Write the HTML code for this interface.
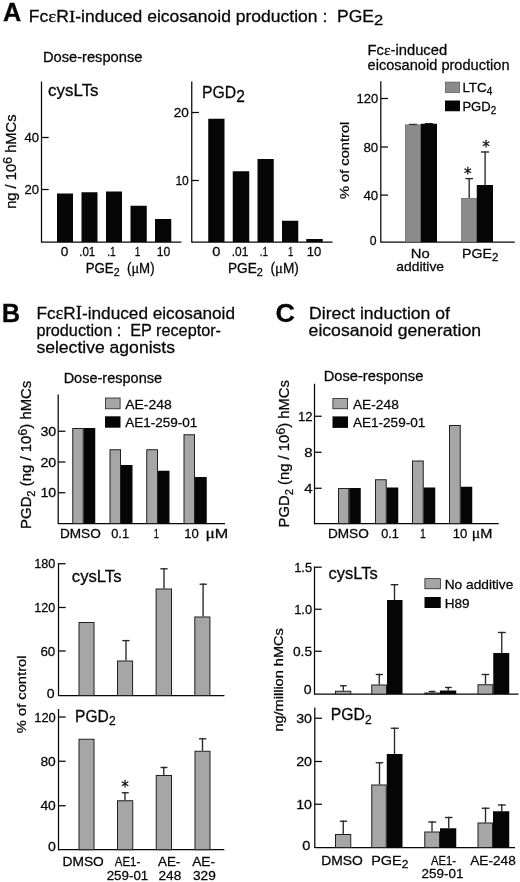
<!DOCTYPE html>
<html><head><meta charset="utf-8"><title>Figure</title>
<style>
html,body{margin:0;padding:0;background:#fff;}
svg{display:block;font-family:"Liberation Sans",sans-serif;fill:#060606;}
text{stroke:#060606;stroke-width:0.26px;}
</style></head><body>
<svg width="520" height="882" viewBox="0 0 520 882">
<rect x="0" y="0" width="520" height="882" fill="#ffffff"/>
<text x="3.07" y="20.6" font-size="26.44" font-weight="bold" textLength="18.26" lengthAdjust="spacingAndGlyphs">A</text>
<text x="28.85" y="21.7" font-size="15.88" textLength="354.31" lengthAdjust="spacingAndGlyphs">Fc<tspan font-family="'Liberation Serif', serif" font-size="108%">ε</tspan>R<tspan font-family="'Liberation Serif', serif" font-size="108%">I</tspan>-induced eicosanoid production :&#160; PGE<tspan dy="3.5" font-size="15">2</tspan><tspan dy="-3.5">&#8203;</tspan></text>
<text x="42.95" y="62.2" font-size="14.11" textLength="99.49" lengthAdjust="spacingAndGlyphs">Dose-response</text>
<line x1="41.5" y1="81.5" x2="41.5" y2="242.6" stroke="#060606" stroke-width="1.25"/>
<line x1="41.5" y1="242" x2="181.3" y2="242" stroke="#060606" stroke-width="1.25"/>
<line x1="41.5" y1="137.5" x2="48.7" y2="137.5" stroke="#060606" stroke-width="1.25"/>
<line x1="41.5" y1="189.5" x2="48.7" y2="189.5" stroke="#060606" stroke-width="1.25"/>
<text x="24.49" y="142" font-size="13.58" textLength="14.63" lengthAdjust="spacingAndGlyphs">40</text>
<text x="24.49" y="194.2" font-size="13.58" textLength="14.63" lengthAdjust="spacingAndGlyphs">20</text>
<text x="48.13" y="96.3" font-size="16.2" textLength="50.44" lengthAdjust="spacingAndGlyphs">cysLTs</text>
<rect x="57.00" y="193.50" width="16.00" height="48.50" fill="#060606"/>
<rect x="81.50" y="192.25" width="16.00" height="49.75" fill="#060606"/>
<rect x="106.00" y="191.50" width="16.00" height="50.50" fill="#060606"/>
<rect x="130.50" y="205.75" width="16.25" height="36.25" fill="#060606"/>
<rect x="155.00" y="219.00" width="16.25" height="23.00" fill="#060606"/>
<text x="60.70" y="256.3" font-size="13.38" textLength="7.61" lengthAdjust="spacingAndGlyphs">0</text>
<text x="79.20" y="256.3" font-size="13.38" textLength="16.11" lengthAdjust="spacingAndGlyphs">.01</text>
<text x="107.20" y="256.3" font-size="13.38" textLength="8.61" lengthAdjust="spacingAndGlyphs">.1</text>
<text x="134.70" y="256.3" font-size="13.38" textLength="5.61" lengthAdjust="spacingAndGlyphs">1</text>
<text x="156.70" y="256.3" font-size="13.38" textLength="13.61" lengthAdjust="spacingAndGlyphs">10</text>
<text x="85.67" y="272.5" font-size="13.79" textLength="68.90" lengthAdjust="spacingAndGlyphs">PGE<tspan dy="3.4" font-size="11">2</tspan><tspan dy="-3.4">&#8203;</tspan>&#160; (<tspan font-family="'Liberation Serif', serif" font-size="108%">μ</tspan>M)</text>
<text transform="translate(16.2,208.85) rotate(-90)" font-size="14.21" textLength="94.41" lengthAdjust="spacingAndGlyphs">ng / 10<tspan dy="-4.6" font-size="12.3">6</tspan><tspan dy="4.6">&#8203;</tspan> hMCs</text>
<line x1="191.75" y1="81.5" x2="191.75" y2="242.6" stroke="#060606" stroke-width="1.25"/>
<line x1="191.75" y1="242" x2="332.5" y2="242" stroke="#060606" stroke-width="1.25"/>
<line x1="191.75" y1="112.5" x2="198.95" y2="112.5" stroke="#060606" stroke-width="1.25"/>
<line x1="191.75" y1="180.5" x2="198.95" y2="180.5" stroke="#060606" stroke-width="1.25"/>
<text x="173.69" y="117.2" font-size="13.58" textLength="15.13" lengthAdjust="spacingAndGlyphs">20</text>
<text x="175.39" y="185.2" font-size="13.58" textLength="13.43" lengthAdjust="spacingAndGlyphs">10</text>
<text x="202.05" y="98.2" font-size="15.88" textLength="42.81" lengthAdjust="spacingAndGlyphs">PGD<tspan dy="3.8" font-size="15.6">2</tspan><tspan dy="-3.8">&#8203;</tspan></text>
<rect x="208.25" y="118.75" width="16.25" height="123.25" fill="#060606"/>
<rect x="232.75" y="171.25" width="16.50" height="70.75" fill="#060606"/>
<rect x="257.50" y="159.00" width="16.25" height="83.00" fill="#060606"/>
<rect x="282.00" y="220.75" width="16.25" height="21.25" fill="#060606"/>
<rect x="306.25" y="239.00" width="16.50" height="3.00" fill="#060606"/>
<text x="212.20" y="256.3" font-size="13.38" textLength="8.11" lengthAdjust="spacingAndGlyphs">0</text>
<text x="231.70" y="256.3" font-size="13.38" textLength="16.61" lengthAdjust="spacingAndGlyphs">.01</text>
<text x="259.70" y="256.3" font-size="13.38" textLength="8.11" lengthAdjust="spacingAndGlyphs">.1</text>
<text x="287.95" y="256.3" font-size="13.38" textLength="5.36" lengthAdjust="spacingAndGlyphs">1</text>
<text x="306.70" y="256.3" font-size="13.38" textLength="14.61" lengthAdjust="spacingAndGlyphs">10</text>
<text x="227.92" y="272.5" font-size="13.79" textLength="70.90" lengthAdjust="spacingAndGlyphs">PGE<tspan dy="3.4" font-size="11">2</tspan><tspan dy="-3.4">&#8203;</tspan>&#160; (<tspan font-family="'Liberation Serif', serif" font-size="108%">μ</tspan>M)</text>
<text x="367.53" y="55.3" font-size="14.42" textLength="79.58" lengthAdjust="spacingAndGlyphs">Fc<tspan font-family="'Liberation Serif', serif" font-size="108%">ε</tspan>-induced</text>
<text x="367.53" y="70.2" font-size="14.42" textLength="142.08" lengthAdjust="spacingAndGlyphs">eicosanoid production</text>
<line x1="380.8" y1="81.2" x2="380.8" y2="242.6" stroke="#060606" stroke-width="1.25"/>
<line x1="380.8" y1="242" x2="514.8" y2="242" stroke="#060606" stroke-width="1.25"/>
<line x1="380.8" y1="98.5" x2="388.0" y2="98.5" stroke="#060606" stroke-width="1.25"/>
<text x="356.49" y="103.1" font-size="13.58" textLength="21.73" lengthAdjust="spacingAndGlyphs">120</text>
<line x1="380.8" y1="147" x2="388.0" y2="147" stroke="#060606" stroke-width="1.25"/>
<text x="363.39" y="151.6" font-size="13.58" textLength="14.83" lengthAdjust="spacingAndGlyphs">80</text>
<line x1="380.8" y1="195.1" x2="388.0" y2="195.1" stroke="#060606" stroke-width="1.25"/>
<text x="363.39" y="199.7" font-size="13.58" textLength="14.83" lengthAdjust="spacingAndGlyphs">40</text>
<text x="369.69" y="244.6" font-size="13.58" textLength="6.83" lengthAdjust="spacingAndGlyphs">0</text>
<rect x="405.35" y="124.85" width="15.05" height="117.15" fill="#8b8b8b" stroke="#666" stroke-width="0.7"/>
<rect x="420.75" y="123.75" width="16.25" height="118.25" fill="#060606"/>
<line x1="409" y1="124.3" x2="417" y2="124.3" stroke="#060606" stroke-width="0.9"/>
<line x1="425" y1="123.5" x2="433" y2="123.5" stroke="#060606" stroke-width="0.9"/>
<line x1="469.2" y1="198" x2="469.2" y2="177.92499999999998" stroke="#262626" stroke-width="1.35"/>
<line x1="465.4" y1="178.6" x2="473" y2="178.6" stroke="#262626" stroke-width="1.35"/>
<line x1="485.1" y1="185" x2="485.1" y2="151.325" stroke="#262626" stroke-width="1.35"/>
<line x1="480.9" y1="152" x2="489.1" y2="152" stroke="#262626" stroke-width="1.35"/>
<rect x="461.60" y="198.35" width="14.80" height="43.65" fill="#8b8b8b" stroke="#666" stroke-width="0.7"/>
<rect x="476.75" y="185.00" width="16.25" height="57.00" fill="#060606"/>
<text x="467.9" y="179.12" font-size="15.2" font-family="'DejaVu Sans', sans-serif" text-anchor="middle">*</text>
<text x="486" y="151.72" font-size="15.2" font-family="'DejaVu Sans', sans-serif" text-anchor="middle">*</text>
<rect x="445.35" y="82.10" width="14.30" height="10.40" fill="#8b8b8b" stroke="#555" stroke-width="0.7"/>
<rect x="445.00" y="100.50" width="15.00" height="10.75" fill="#060606"/>
<text x="462.40" y="91.75" font-size="13.38" textLength="30.01" lengthAdjust="spacingAndGlyphs">LTC<tspan dy="2.8" font-size="10">4</tspan><tspan dy="-2.8">&#8203;</tspan></text>
<text x="462.40" y="110.75" font-size="13.38" textLength="33.71" lengthAdjust="spacingAndGlyphs">PGD<tspan dy="2.8" font-size="10">2</tspan><tspan dy="-2.8">&#8203;</tspan></text>
<text transform="translate(349.3,199.07) rotate(-90)" font-size="13.69" textLength="77.39" lengthAdjust="spacingAndGlyphs">% of control</text>
<text x="410.89" y="257.6" font-size="13.58" textLength="18.93" lengthAdjust="spacingAndGlyphs">No</text>
<text x="396.29" y="271.4" font-size="13.58" textLength="47.73" lengthAdjust="spacingAndGlyphs">additive</text>
<text x="462.09" y="257.6" font-size="13.58" textLength="36.23" lengthAdjust="spacingAndGlyphs">PGE<tspan dy="3" font-size="11">2</tspan><tspan dy="-3">&#8203;</tspan></text>
<text x="1.81" y="322" font-size="26.44" font-weight="bold" textLength="18.37" lengthAdjust="spacingAndGlyphs">B</text>
<text x="36.40" y="318.9" font-size="16.72" textLength="198.61" lengthAdjust="spacingAndGlyphs">Fc<tspan font-family="'Liberation Serif', serif" font-size="108%">ε</tspan>R<tspan font-family="'Liberation Serif', serif" font-size="108%">I</tspan>-induced eicosanoid</text>
<text x="36.40" y="336.3" font-size="16.72" textLength="184.61" lengthAdjust="spacingAndGlyphs">production :&#160; EP receptor-</text>
<text x="36.40" y="353.3" font-size="16.72" textLength="138.61" lengthAdjust="spacingAndGlyphs">selective agonists</text>
<text x="63.65" y="383" font-size="14.11" textLength="98.44" lengthAdjust="spacingAndGlyphs">Dose-response</text>
<line x1="58.2" y1="394.5" x2="58.2" y2="524.1" stroke="#060606" stroke-width="1.25"/>
<line x1="58.2" y1="523.5" x2="225" y2="523.5" stroke="#060606" stroke-width="1.25"/>
<line x1="58.2" y1="431.25" x2="65.4" y2="431.25" stroke="#060606" stroke-width="1.25"/>
<text x="40.45" y="435.75" font-size="13.38" textLength="15.86" lengthAdjust="spacingAndGlyphs">30</text>
<line x1="58.2" y1="462" x2="65.4" y2="462" stroke="#060606" stroke-width="1.25"/>
<text x="40.45" y="466.5" font-size="13.38" textLength="15.86" lengthAdjust="spacingAndGlyphs">20</text>
<line x1="58.2" y1="492.75" x2="65.4" y2="492.75" stroke="#060606" stroke-width="1.25"/>
<text x="40.45" y="497.25" font-size="13.38" textLength="15.86" lengthAdjust="spacingAndGlyphs">10</text>
<rect x="105.40" y="398.00" width="14.70" height="10.80" fill="#a6a6a6" stroke="#202020" stroke-width="0.8"/>
<rect x="105.00" y="416.30" width="15.50" height="11.40" fill="#060606"/>
<text x="125.20" y="409" font-size="13.38" textLength="46.61" lengthAdjust="spacingAndGlyphs">AE-248</text>
<text x="125.20" y="427" font-size="13.38" textLength="72.21" lengthAdjust="spacingAndGlyphs">AE1-259-01</text>
<rect x="72.75" y="428.50" width="10.50" height="95.00" fill="#a6a6a6" stroke="#202020" stroke-width="1.0"/>
<rect x="83.75" y="428.00" width="11.50" height="95.50" fill="#060606"/>
<rect x="110.00" y="449.75" width="10.50" height="73.75" fill="#a6a6a6" stroke="#202020" stroke-width="1.0"/>
<rect x="121.00" y="465.00" width="11.50" height="58.50" fill="#060606"/>
<rect x="146.75" y="449.75" width="10.75" height="73.75" fill="#a6a6a6" stroke="#202020" stroke-width="1.0"/>
<rect x="158.00" y="470.75" width="11.50" height="52.75" fill="#060606"/>
<rect x="184.00" y="434.75" width="10.50" height="88.75" fill="#a6a6a6" stroke="#202020" stroke-width="1.0"/>
<rect x="195.00" y="477.00" width="11.75" height="46.50" fill="#060606"/>
<text x="59.97" y="537.5" font-size="13.06" textLength="40.82" lengthAdjust="spacingAndGlyphs">DMSO</text>
<text x="111.22" y="537.5" font-size="13.06" textLength="17.82" lengthAdjust="spacingAndGlyphs">0.1</text>
<text x="153.72" y="537.5" font-size="13.06" textLength="5.07" lengthAdjust="spacingAndGlyphs">1</text>
<text x="184.22" y="537.5" font-size="13.06" textLength="14.57" lengthAdjust="spacingAndGlyphs">10</text>
<text x="205.47" y="537.5" font-size="13.06" textLength="22.82" lengthAdjust="spacingAndGlyphs"><tspan font-family="'Liberation Serif', serif" font-size="108%">μ</tspan>M</text>
<text transform="translate(31.3,528.88) rotate(-90)" font-size="14.63" textLength="148.16" lengthAdjust="spacingAndGlyphs">PGD<tspan dy="3.5" font-size="11">2</tspan><tspan dy="-3.5">&#8203;</tspan> (ng / 10<tspan dy="-4.6" font-size="12.5">6</tspan><tspan dy="4.6">&#8203;</tspan>) hMCs</text>
<line x1="58.5" y1="563.2" x2="58.5" y2="696.1" stroke="#060606" stroke-width="1.25"/>
<line x1="58.5" y1="695.5" x2="224.4" y2="695.5" stroke="#060606" stroke-width="1.25"/>
<line x1="58.5" y1="563.75" x2="65.7" y2="563.75" stroke="#060606" stroke-width="1.25"/>
<text x="34.20" y="568.15" font-size="13.38" textLength="21.11" lengthAdjust="spacingAndGlyphs">180</text>
<line x1="58.5" y1="607.5" x2="65.7" y2="607.5" stroke="#060606" stroke-width="1.25"/>
<text x="34.20" y="611.9" font-size="13.38" textLength="21.11" lengthAdjust="spacingAndGlyphs">120</text>
<line x1="58.5" y1="651" x2="65.7" y2="651" stroke="#060606" stroke-width="1.25"/>
<text x="40.45" y="656.2" font-size="13.38" textLength="14.86" lengthAdjust="spacingAndGlyphs">60</text>
<text x="46.70" y="698" font-size="13.38" textLength="7.86" lengthAdjust="spacingAndGlyphs">0</text>
<text x="71.83" y="582" font-size="16.2" textLength="49.64" lengthAdjust="spacingAndGlyphs">cysLTs</text>
<rect x="79.00" y="622.50" width="15.00" height="73.00" fill="#a6a6a6" stroke="#202020" stroke-width="1.0"/>
<line x1="126" y1="660.5" x2="126" y2="639.9250000000001" stroke="#262626" stroke-width="1.35"/>
<line x1="122.3" y1="640.6" x2="129.6" y2="640.6" stroke="#262626" stroke-width="1.35"/>
<rect x="117.50" y="661.00" width="15.10" height="34.50" fill="#a6a6a6" stroke="#202020" stroke-width="1.0"/>
<line x1="164" y1="588.5" x2="164" y2="568.125" stroke="#262626" stroke-width="1.35"/>
<line x1="160.3" y1="568.8" x2="167.6" y2="568.8" stroke="#262626" stroke-width="1.35"/>
<rect x="156.10" y="589.00" width="15.40" height="106.50" fill="#a6a6a6" stroke="#202020" stroke-width="1.0"/>
<line x1="203.1" y1="616.5" x2="203.1" y2="583.5250000000001" stroke="#262626" stroke-width="1.35"/>
<line x1="199.6" y1="584.2" x2="206.9" y2="584.2" stroke="#262626" stroke-width="1.35"/>
<rect x="194.80" y="617.00" width="15.10" height="78.50" fill="#a6a6a6" stroke="#202020" stroke-width="1.0"/>
<text transform="translate(26.4,733.22) rotate(-90)" font-size="13.69" textLength="77.74" lengthAdjust="spacingAndGlyphs">% of control</text>
<line x1="58.5" y1="709" x2="58.5" y2="850.3000000000001" stroke="#060606" stroke-width="1.25"/>
<line x1="58.5" y1="849.7" x2="224.3" y2="849.7" stroke="#060606" stroke-width="1.25"/>
<line x1="58.5" y1="717" x2="65.7" y2="717" stroke="#060606" stroke-width="1.25"/>
<text x="34.20" y="721.6" font-size="13.38" textLength="21.61" lengthAdjust="spacingAndGlyphs">120</text>
<line x1="58.5" y1="761.25" x2="65.7" y2="761.25" stroke="#060606" stroke-width="1.25"/>
<text x="40.45" y="765.85" font-size="13.38" textLength="15.36" lengthAdjust="spacingAndGlyphs">80</text>
<line x1="58.5" y1="805.75" x2="65.7" y2="805.75" stroke="#060606" stroke-width="1.25"/>
<text x="40.45" y="810.35" font-size="13.38" textLength="15.36" lengthAdjust="spacingAndGlyphs">40</text>
<text x="47.95" y="850.8" font-size="13.38" textLength="7.86" lengthAdjust="spacingAndGlyphs">0</text>
<text x="75.06" y="721.7" font-size="15.67" textLength="40.48" lengthAdjust="spacingAndGlyphs">PGD<tspan dy="3.4" font-size="12">2</tspan><tspan dy="-3.4">&#8203;</tspan></text>
<rect x="79.00" y="739.25" width="15.00" height="110.45" fill="#a6a6a6" stroke="#202020" stroke-width="1.0"/>
<line x1="125" y1="800.25" x2="125" y2="792.075" stroke="#262626" stroke-width="1.35"/>
<line x1="121.75" y1="792.75" x2="128.75" y2="792.75" stroke="#262626" stroke-width="1.35"/>
<rect x="117.50" y="800.75" width="15.25" height="48.95" fill="#a6a6a6" stroke="#202020" stroke-width="1.0"/>
<line x1="163.75" y1="775" x2="163.75" y2="766.825" stroke="#262626" stroke-width="1.35"/>
<line x1="160.5" y1="767.5" x2="167.5" y2="767.5" stroke="#262626" stroke-width="1.35"/>
<rect x="156.25" y="775.50" width="15.25" height="74.20" fill="#a6a6a6" stroke="#202020" stroke-width="1.0"/>
<line x1="202.5" y1="750.75" x2="202.5" y2="738.075" stroke="#262626" stroke-width="1.35"/>
<line x1="199" y1="738.75" x2="206.25" y2="738.75" stroke="#262626" stroke-width="1.35"/>
<rect x="195.00" y="751.25" width="15.00" height="98.45" fill="#a6a6a6" stroke="#202020" stroke-width="1.0"/>
<text x="125.1" y="792.42" font-size="15.2" font-family="'DejaVu Sans', sans-serif" text-anchor="middle">*</text>
<text x="62.47" y="865.75" font-size="13.06" textLength="41.32" lengthAdjust="spacingAndGlyphs">DMSO</text>
<text x="114.79" y="865.8" font-size="13.48" textLength="25.52" lengthAdjust="spacingAndGlyphs">AE1-</text>
<text x="106.69" y="879.5" font-size="13.48" textLength="41.62" lengthAdjust="spacingAndGlyphs">259-01</text>
<text x="157.94" y="865.8" font-size="13.48" textLength="22.37" lengthAdjust="spacingAndGlyphs">AE-</text>
<text x="158.44" y="879.5" font-size="13.48" textLength="22.87" lengthAdjust="spacingAndGlyphs">248</text>
<text x="192.19" y="865.8" font-size="13.48" textLength="22.87" lengthAdjust="spacingAndGlyphs">AE-</text>
<text x="192.94" y="879.5" font-size="13.48" textLength="22.87" lengthAdjust="spacingAndGlyphs">329</text>
<text x="275.64" y="322.4" font-size="25.92" font-weight="bold" textLength="19.51" lengthAdjust="spacingAndGlyphs">C</text>
<text x="309.00" y="318.7" font-size="16.72" textLength="141.01" lengthAdjust="spacingAndGlyphs">Direct induction of</text>
<text x="308.60" y="335.5" font-size="16.72" textLength="172.41" lengthAdjust="spacingAndGlyphs">eicosanoid generation</text>
<text x="323.65" y="381.25" font-size="14.11" textLength="99.69" lengthAdjust="spacingAndGlyphs">Dose-response</text>
<line x1="314.5" y1="383.75" x2="314.5" y2="524.2" stroke="#060606" stroke-width="1.25"/>
<line x1="314.5" y1="523.6" x2="498.75" y2="523.6" stroke="#060606" stroke-width="1.25"/>
<line x1="314.5" y1="416.25" x2="321.7" y2="416.25" stroke="#060606" stroke-width="1.25"/>
<text x="297.95" y="420.75" font-size="13.38" textLength="14.61" lengthAdjust="spacingAndGlyphs">12</text>
<line x1="314.5" y1="452.25" x2="321.7" y2="452.25" stroke="#060606" stroke-width="1.25"/>
<text x="304.20" y="456.75" font-size="13.38" textLength="8.36" lengthAdjust="spacingAndGlyphs">8</text>
<line x1="314.5" y1="488.25" x2="321.7" y2="488.25" stroke="#060606" stroke-width="1.25"/>
<text x="304.20" y="492.75" font-size="13.38" textLength="8.36" lengthAdjust="spacingAndGlyphs">4</text>
<rect x="332.90" y="398.40" width="14.70" height="10.35" fill="#a6a6a6" stroke="#202020" stroke-width="0.8"/>
<rect x="332.50" y="416.40" width="15.50" height="11.50" fill="#060606"/>
<text x="352.95" y="408.75" font-size="13.38" textLength="45.86" lengthAdjust="spacingAndGlyphs">AE-248</text>
<text x="352.95" y="427" font-size="13.38" textLength="72.36" lengthAdjust="spacingAndGlyphs">AE1-259-01</text>
<rect x="338.50" y="488.50" width="10.25" height="35.10" fill="#a6a6a6" stroke="#202020" stroke-width="1.0"/>
<rect x="349.25" y="488.00" width="11.50" height="35.60" fill="#060606"/>
<rect x="375.50" y="479.75" width="10.75" height="43.85" fill="#a6a6a6" stroke="#202020" stroke-width="1.0"/>
<rect x="386.75" y="487.50" width="11.50" height="36.10" fill="#060606"/>
<rect x="412.50" y="461.00" width="10.75" height="62.60" fill="#a6a6a6" stroke="#202020" stroke-width="1.0"/>
<rect x="423.75" y="487.50" width="11.50" height="36.10" fill="#060606"/>
<rect x="449.50" y="425.50" width="10.75" height="98.10" fill="#a6a6a6" stroke="#202020" stroke-width="1.0"/>
<rect x="460.75" y="486.75" width="11.50" height="36.85" fill="#060606"/>
<text x="327.97" y="538" font-size="13.06" textLength="40.82" lengthAdjust="spacingAndGlyphs">DMSO</text>
<text x="381.22" y="538" font-size="13.06" textLength="17.57" lengthAdjust="spacingAndGlyphs">0.1</text>
<text x="419.97" y="538" font-size="13.06" textLength="5.82" lengthAdjust="spacingAndGlyphs">1</text>
<text x="452.72" y="538" font-size="13.06" textLength="14.57" lengthAdjust="spacingAndGlyphs">10</text>
<text x="471.72" y="538" font-size="13.06" textLength="20.57" lengthAdjust="spacingAndGlyphs"><tspan font-family="'Liberation Serif', serif" font-size="108%">μ</tspan>M</text>
<text transform="translate(289.3,527.38) rotate(-90)" font-size="14.63" textLength="147.26" lengthAdjust="spacingAndGlyphs">PGD<tspan dy="3.5" font-size="11">2</tspan><tspan dy="-3.5">&#8203;</tspan> (ng / 10<tspan dy="-4.6" font-size="12.5">6</tspan><tspan dy="4.6">&#8203;</tspan>) hMCs</text>
<line x1="314.5" y1="566.6" x2="314.5" y2="694.7" stroke="#060606" stroke-width="1.25"/>
<line x1="314.5" y1="694.1" x2="518.5" y2="694.1" stroke="#060606" stroke-width="1.25"/>
<line x1="314.5" y1="567.2" x2="321.7" y2="567.2" stroke="#060606" stroke-width="1.25"/>
<text x="294.20" y="572.0" font-size="13.38" textLength="17.86" lengthAdjust="spacingAndGlyphs">1.5</text>
<line x1="314.5" y1="609.25" x2="321.7" y2="609.25" stroke="#060606" stroke-width="1.25"/>
<text x="294.20" y="614.05" font-size="13.38" textLength="17.86" lengthAdjust="spacingAndGlyphs">1.0</text>
<line x1="314.5" y1="651.25" x2="321.7" y2="651.25" stroke="#060606" stroke-width="1.25"/>
<text x="292.95" y="656.05" font-size="13.38" textLength="19.11" lengthAdjust="spacingAndGlyphs">0.5</text>
<text x="303.70" y="693.9" font-size="13.38" textLength="7.86" lengthAdjust="spacingAndGlyphs">0</text>
<text x="328.53" y="579.3" font-size="16.2" textLength="49.14" lengthAdjust="spacingAndGlyphs">cysLTs</text>
<rect x="424.90" y="578.65" width="15.45" height="10.10" fill="#a6a6a6" stroke="#202020" stroke-width="0.8"/>
<rect x="424.50" y="597.00" width="16.25" height="11.00" fill="#060606"/>
<text x="444.70" y="588.75" font-size="13.38" textLength="68.61" lengthAdjust="spacingAndGlyphs">No additive</text>
<text x="444.70" y="608" font-size="13.38" textLength="24.86" lengthAdjust="spacingAndGlyphs">H89</text>
<line x1="343.25" y1="690.75" x2="343.25" y2="685.075" stroke="#262626" stroke-width="1.35"/>
<line x1="340" y1="685.75" x2="346.75" y2="685.75" stroke="#262626" stroke-width="1.35"/>
<rect x="335.50" y="691.25" width="15.25" height="2.85" fill="#a6a6a6" stroke="#202020" stroke-width="1.0"/>
<line x1="379.25" y1="684.5" x2="379.25" y2="673.825" stroke="#262626" stroke-width="1.35"/>
<line x1="375.75" y1="674.5" x2="383" y2="674.5" stroke="#262626" stroke-width="1.35"/>
<rect x="371.75" y="685.00" width="14.75" height="9.10" fill="#a6a6a6" stroke="#202020" stroke-width="1.0"/>
<line x1="394.5" y1="600" x2="394.5" y2="584.0250000000001" stroke="#262626" stroke-width="1.35"/>
<line x1="390.75" y1="584.7" x2="398.25" y2="584.7" stroke="#262626" stroke-width="1.35"/>
<rect x="387.00" y="600.00" width="15.50" height="94.10" fill="#060606"/>
<line x1="432" y1="692.5" x2="432" y2="690.825" stroke="#262626" stroke-width="1.35"/>
<line x1="428.75" y1="691.5" x2="435.5" y2="691.5" stroke="#262626" stroke-width="1.35"/>
<rect x="424.75" y="693.00" width="14.75" height="1.10" fill="#a6a6a6" stroke="#202020" stroke-width="1.0"/>
<line x1="448.25" y1="690.5" x2="448.25" y2="686.825" stroke="#262626" stroke-width="1.35"/>
<line x1="445" y1="687.5" x2="451.75" y2="687.5" stroke="#262626" stroke-width="1.35"/>
<rect x="440.00" y="690.50" width="16.25" height="3.60" fill="#060606"/>
<line x1="485.5" y1="684.25" x2="485.5" y2="673.825" stroke="#262626" stroke-width="1.35"/>
<line x1="481.75" y1="674.5" x2="489.25" y2="674.5" stroke="#262626" stroke-width="1.35"/>
<rect x="478.00" y="684.75" width="14.75" height="9.35" fill="#a6a6a6" stroke="#202020" stroke-width="1.0"/>
<line x1="501.75" y1="653" x2="501.75" y2="631.825" stroke="#262626" stroke-width="1.35"/>
<line x1="498" y1="632.5" x2="505.75" y2="632.5" stroke="#262626" stroke-width="1.35"/>
<rect x="493.25" y="653.00" width="16.00" height="41.10" fill="#060606"/>
<text transform="translate(282.7,731.60) rotate(-90)" font-size="13.27" textLength="103.39" lengthAdjust="spacingAndGlyphs">ng/million hMCs</text>
<line x1="314.8" y1="707.5" x2="314.8" y2="848.1" stroke="#060606" stroke-width="1.25"/>
<line x1="314.8" y1="847.5" x2="515" y2="847.5" stroke="#060606" stroke-width="1.25"/>
<line x1="314.8" y1="718.25" x2="322.0" y2="718.25" stroke="#060606" stroke-width="1.25"/>
<text x="296.20" y="722.85" font-size="13.38" textLength="15.86" lengthAdjust="spacingAndGlyphs">30</text>
<line x1="314.8" y1="761.5" x2="322.0" y2="761.5" stroke="#060606" stroke-width="1.25"/>
<text x="296.20" y="766.1" font-size="13.38" textLength="15.86" lengthAdjust="spacingAndGlyphs">20</text>
<line x1="314.8" y1="804.25" x2="322.0" y2="804.25" stroke="#060606" stroke-width="1.25"/>
<text x="296.20" y="808.85" font-size="13.38" textLength="15.86" lengthAdjust="spacingAndGlyphs">10</text>
<text x="302.20" y="849.5" font-size="13.38" textLength="8.11" lengthAdjust="spacingAndGlyphs">0</text>
<text x="330.66" y="720.3" font-size="15.67" textLength="40.98" lengthAdjust="spacingAndGlyphs">PGD<tspan dy="3.4" font-size="12">2</tspan><tspan dy="-3.4">&#8203;</tspan></text>
<line x1="343.25" y1="834" x2="343.25" y2="820.575" stroke="#262626" stroke-width="1.35"/>
<line x1="340" y1="821.25" x2="347" y2="821.25" stroke="#262626" stroke-width="1.35"/>
<rect x="335.50" y="834.50" width="15.25" height="13.00" fill="#a6a6a6" stroke="#202020" stroke-width="1.0"/>
<line x1="379.5" y1="784.5" x2="379.5" y2="762.075" stroke="#262626" stroke-width="1.35"/>
<line x1="375.75" y1="762.75" x2="383.25" y2="762.75" stroke="#262626" stroke-width="1.35"/>
<rect x="371.75" y="785.00" width="14.50" height="62.50" fill="#a6a6a6" stroke="#202020" stroke-width="1.0"/>
<line x1="394.5" y1="754" x2="394.5" y2="727.575" stroke="#262626" stroke-width="1.35"/>
<line x1="390.75" y1="728.25" x2="398.75" y2="728.25" stroke="#262626" stroke-width="1.35"/>
<rect x="386.75" y="754.00" width="15.75" height="93.50" fill="#060606"/>
<line x1="432" y1="831.5" x2="432" y2="821.325" stroke="#262626" stroke-width="1.35"/>
<line x1="428.25" y1="822" x2="436.25" y2="822" stroke="#262626" stroke-width="1.35"/>
<rect x="424.75" y="832.00" width="14.75" height="15.50" fill="#a6a6a6" stroke="#202020" stroke-width="1.0"/>
<line x1="448.75" y1="828.25" x2="448.75" y2="816.825" stroke="#262626" stroke-width="1.35"/>
<line x1="445" y1="817.5" x2="452.5" y2="817.5" stroke="#262626" stroke-width="1.35"/>
<rect x="440.00" y="828.25" width="16.25" height="19.25" fill="#060606"/>
<line x1="485.5" y1="822.5" x2="485.5" y2="807.575" stroke="#262626" stroke-width="1.35"/>
<line x1="481.75" y1="808.25" x2="489.5" y2="808.25" stroke="#262626" stroke-width="1.35"/>
<rect x="478.00" y="823.00" width="14.50" height="24.50" fill="#a6a6a6" stroke="#202020" stroke-width="1.0"/>
<line x1="501.75" y1="811.25" x2="501.75" y2="804.325" stroke="#262626" stroke-width="1.35"/>
<line x1="498" y1="805" x2="505.75" y2="805" stroke="#262626" stroke-width="1.35"/>
<rect x="493.00" y="811.25" width="16.25" height="36.25" fill="#060606"/>
<text x="321.22" y="864.5" font-size="13.06" textLength="41.57" lengthAdjust="spacingAndGlyphs">DMSO</text>
<text x="371.20" y="864.5" font-size="13.38" textLength="37.11" lengthAdjust="spacingAndGlyphs">PGE<tspan dy="3.5" font-size="11">2</tspan><tspan dy="-3.5">&#8203;</tspan></text>
<text x="431.00" y="864.9" font-size="13.38" textLength="25.01" lengthAdjust="spacingAndGlyphs">AE1-</text>
<text x="421.60" y="878" font-size="13.38" textLength="41.81" lengthAdjust="spacingAndGlyphs">259-01</text>
<text x="470.20" y="864.9" font-size="13.38" textLength="45.61" lengthAdjust="spacingAndGlyphs">AE-248</text>
</svg>
</body></html>
